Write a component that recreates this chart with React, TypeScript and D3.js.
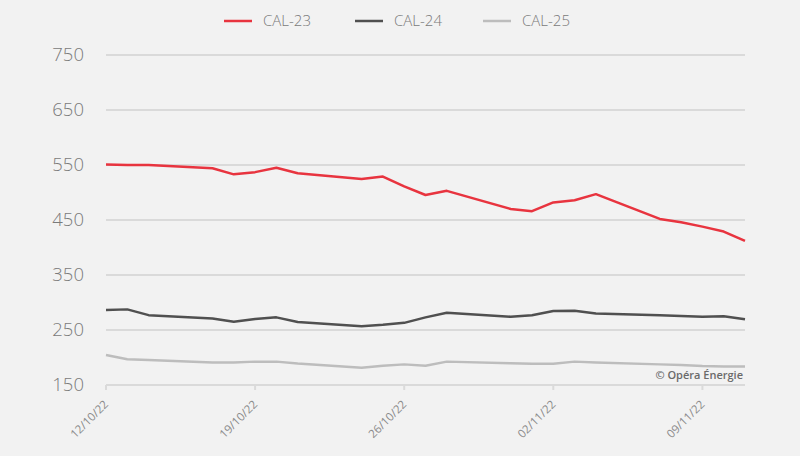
import React from "react";
import * as d3 from "d3";

const dates = [
  "2022-10-12", "2022-10-13", "2022-10-14", "2022-10-17", "2022-10-18", "2022-10-19",
  "2022-10-20", "2022-10-21", "2022-10-24", "2022-10-25", "2022-10-26", "2022-10-27",
  "2022-10-28", "2022-10-31", "2022-11-01", "2022-11-02", "2022-11-03", "2022-11-04",
  "2022-11-07", "2022-11-08", "2022-11-09", "2022-11-10", "2022-11-11",
];
const cal23 = [551, 550, 550, 544, 533, 537, 545, 535, 524.5, 529, 511, 495.5, 503, 470, 466, 482, 486, 497, 452, 446, 438, 429, 412];
const cal24 = [286.5, 287.5, 277, 271, 265, 270, 273, 264.5, 257, 259.5, 263, 273, 281.5, 274, 277, 284.5, 285, 280, 277, 275.5, 274, 275, 269.5];
const cal25 = [204.5, 197, 195.5, 191, 191, 192.5, 192.5, 189, 181.5, 185, 187.5, 185, 192.5, 189.5, 188.5, 188.5, 192.5, 191, 187.5, 186.5, 184.5, 183.5, 183.5];
const seriesNames = ["CAL-23", "CAL-24", "CAL-25"];
const seriesColors = ["#e8343f", "#505050", "#bdbdbd"];
const yTicks = [150, 250, 350, 450, 550, 650, 750];
const xTicks = ["2022-10-12", "2022-10-19", "2022-10-26", "2022-11-02", "2022-11-09"];

const W = 800, H = 456;
const left = 106, right = 745, top = 55, bottom = 385;
const font = "'Open Sans', 'Noto Sans', sans-serif";

export default function App() {
  const parse = d3.timeParse("%Y-%m-%d");
  const fmt = d3.timeFormat("%d/%m/%y");
  const x = d3.scaleTime().domain([parse("2022-10-12")!, parse("2022-11-11")!]).range([left, right]);
  const y = d3.scaleLinear().domain([150, 750]).range([bottom, top]);
  const all = [cal23, cal24, cal25];
  const line = d3.line<number>()
    .x((_, i) => x(parse(dates[i])!))
    .y((d) => y(d));
  const legendX = [224, 355, 483];

  return (
    <svg width={W} height={H} style={{ position: "absolute", left: 0, top: 0, background: "#f2f2f2" }}>
      <rect x={0} y={0} width={W} height={H} fill="#f2f2f2" />
      {yTicks.map((t) => (
        <g key={t}>
          <line x1={left} x2={right} y1={y(t)} y2={y(t)} stroke="#dadada" strokeWidth={2} />
          <text x={84} y={y(t)} dy="0.35em" textAnchor="end" fontFamily={font} fontSize={18.5} fontWeight={300} fill="#7a7a7a">{t}</text>
        </g>
      ))}
      {xTicks.map((t) => {
        const xx = x(parse(t)!);
        return (
          <g key={t}>
            <line x1={xx} x2={xx} y1={bottom} y2={bottom + 5} stroke="#dadada" strokeWidth={2} />
            <text transform={`translate(${xx + 3},${bottom + 20}) rotate(-45)`} textAnchor="end" fontFamily={font} fontSize={11.5} fill="#8a8a8a">{fmt(parse(t)!)}</text>
          </g>
        );
      })}
      {all.slice().reverse().map((s, ri) => {
        const i = all.length - 1 - ri;
        return <path key={i} d={line(s) || ""} fill="none" stroke={seriesColors[i]} strokeWidth={2.5} strokeLinejoin="round" />;
      })}
      {seriesNames.map((n, i) => (
        <g key={n}>
          <line x1={legendX[i]} x2={legendX[i] + 28} y1={21} y2={21} stroke={seriesColors[i]} strokeWidth={2.5} />
          <text x={legendX[i] + 39} y={21} dy="0.35em" fontFamily={font} fontSize={15} fontWeight={300} fill="#7a7a7a">{n}</text>
        </g>
      ))}
      <text x={743} y={379} textAnchor="end" fontFamily={font} fontSize={11} fontWeight={600} fill="#6a6a6a">© Opéra Énergie</text>
    </svg>
  );
}
